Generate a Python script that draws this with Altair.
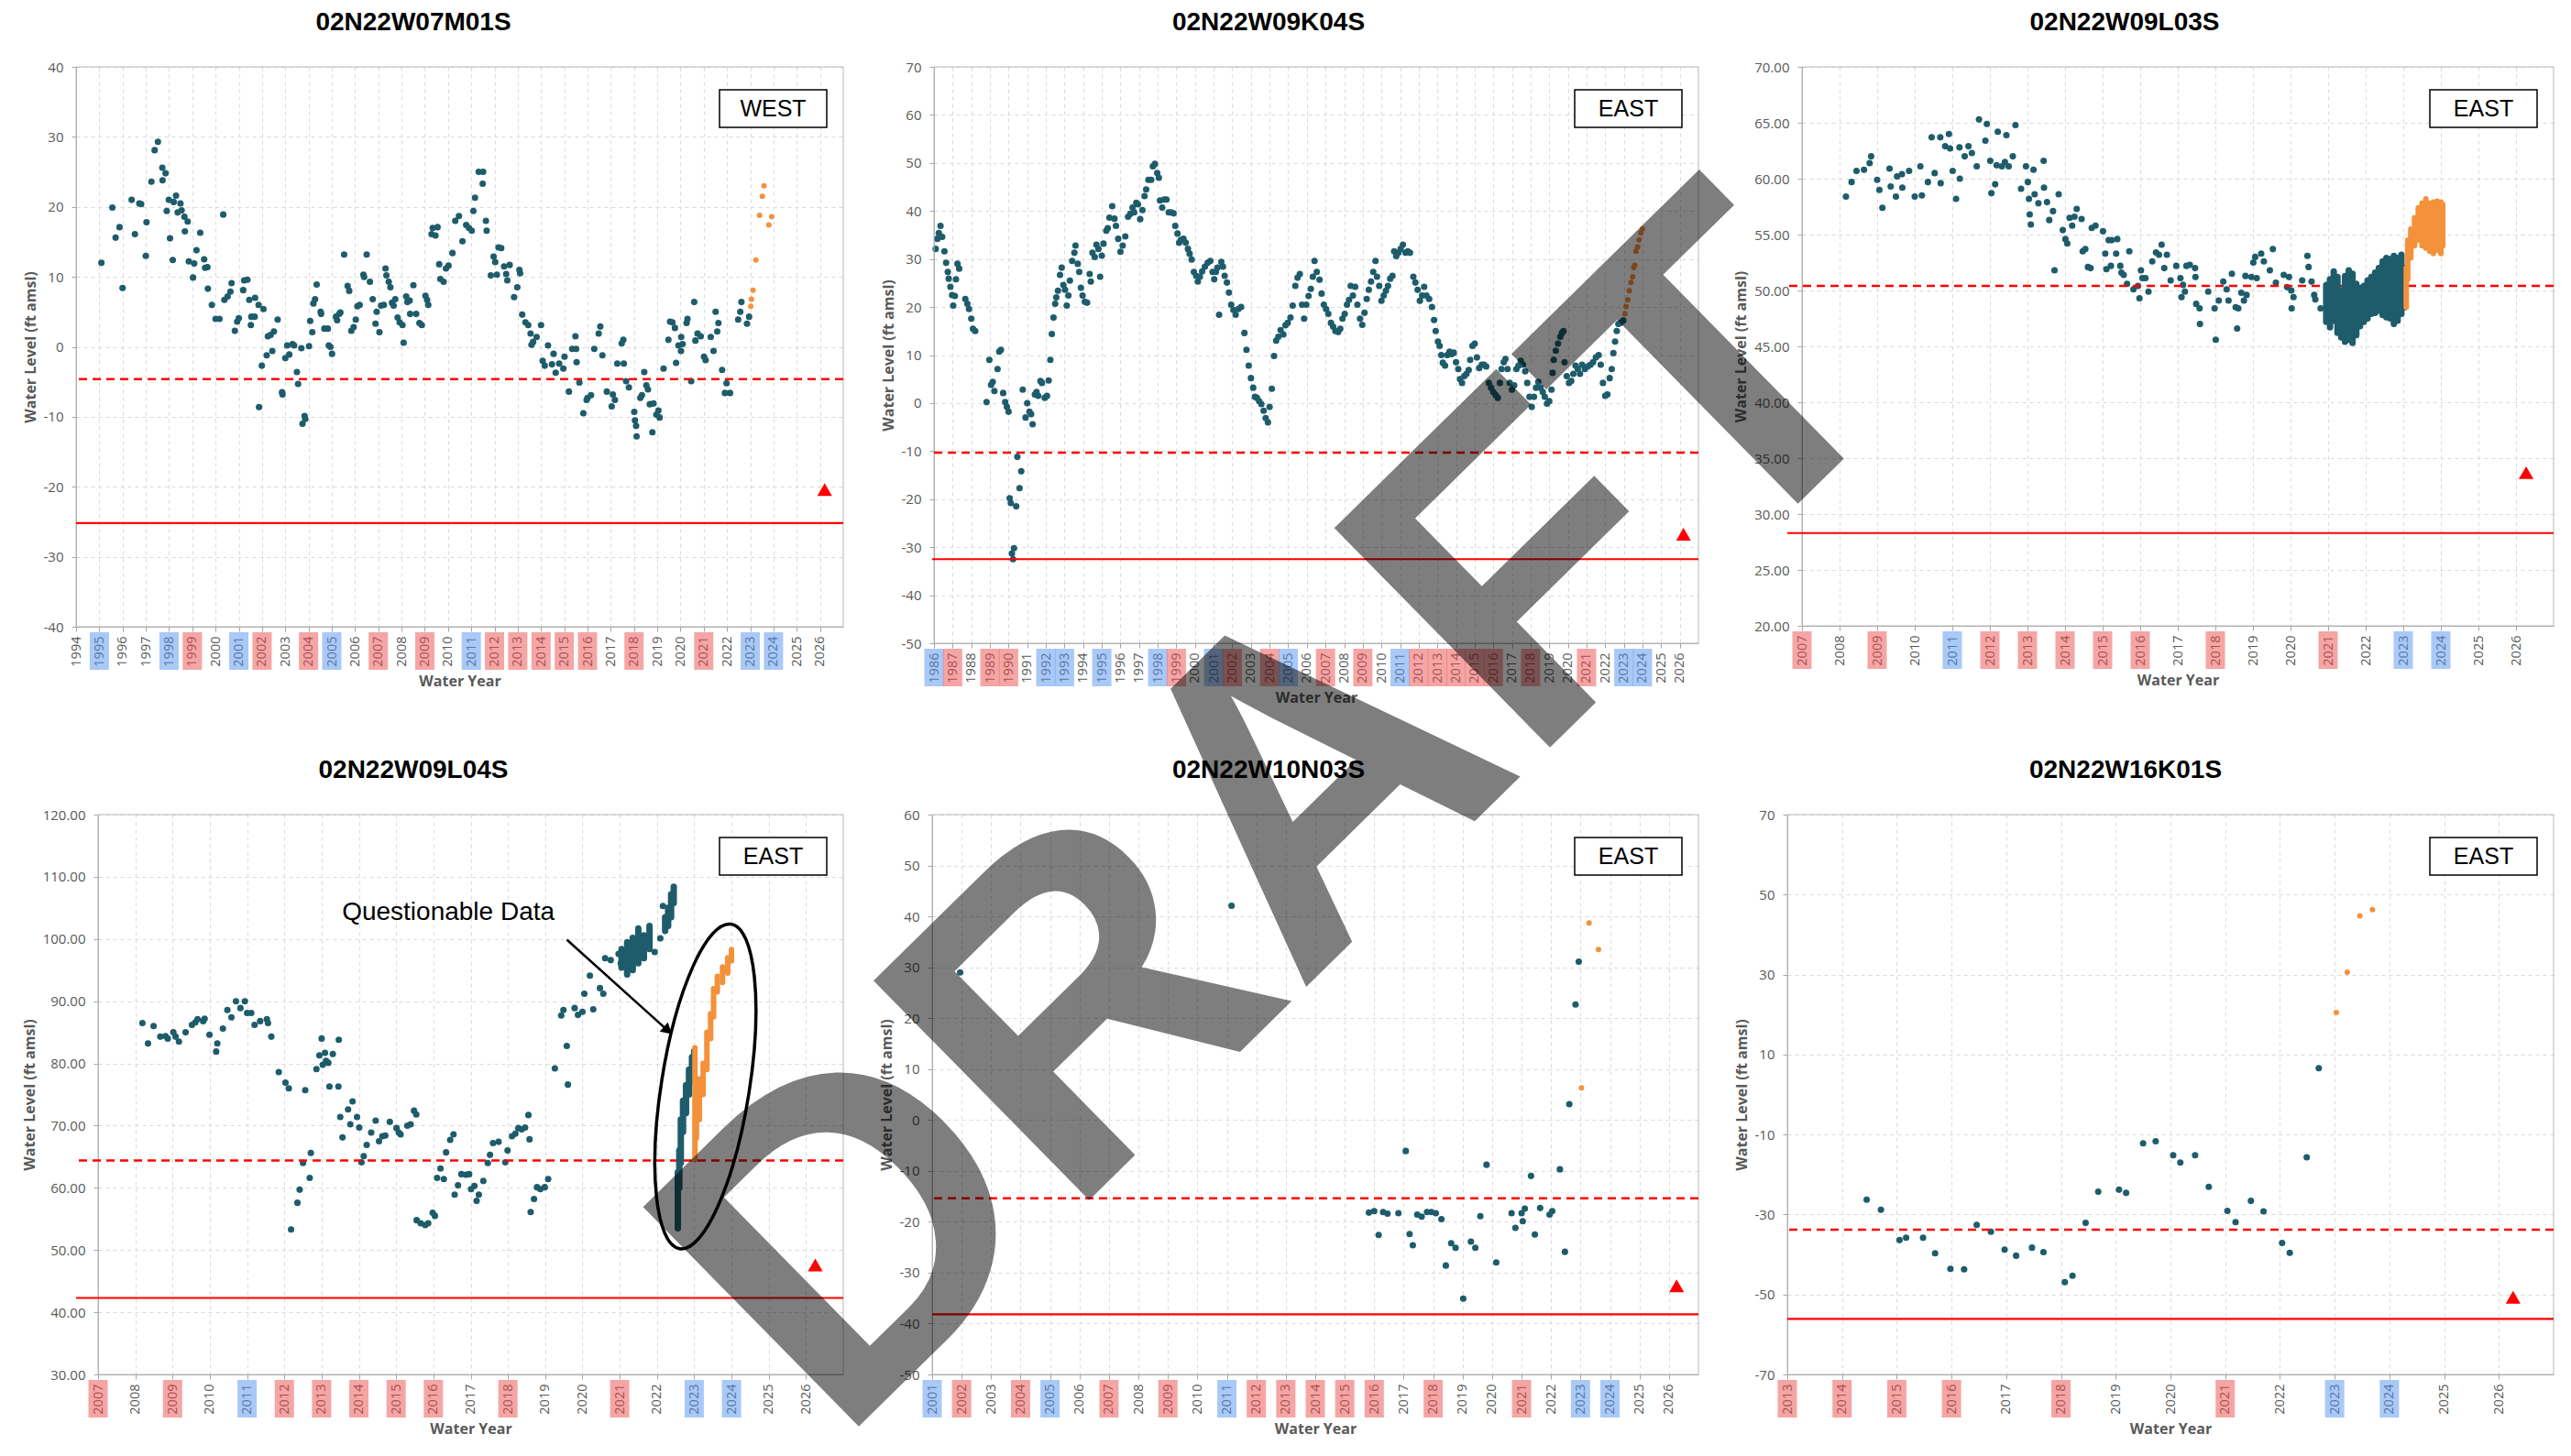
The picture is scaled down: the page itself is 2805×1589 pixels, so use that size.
import altair as alt
import pandas as pd

# ---------------------------------------------------------------- colours / fonts
TEAL = "#1e5c6b"
ORANGE = "#f4913b"
RED = "#ff0000"
WET_COLOR = "#5393ef"
DRY_COLOR = "#ed4b4b"
GRID = "#dadada"
AXIS_GRAY = "#a6a6a6"
FRAME_GRAY = "#b8b8b8"
TEXT_GRAY = "#595959"
LABEL_FONT = "Open Sans"
TITLE_FONT = "Liberation Sans"

# ---------------------------------------------------------------- year classes
WET_YEARS = [1986, 1992, 1993, 1995, 1998, 2001, 2005, 2011, 2023, 2024]
DRY_YEARS = [1987, 1989, 1990, 1999, 2002, 2004, 2007, 2009, 2012, 2013, 2014,
             2015, 2016, 2018, 2021]

# ---------------------------------------------------------------- 02N22W07M01S
P1_HIST = [(1995.09,12.0),(1995.56,19.9),(1995.70,15.6),(1995.87,17.1),(1996.00,8.4),(1996.39,21.0),(1996.53,16.1),(1996.72,20.5),(1996.80,20.4),(1997.00,13.0),(1997.03,17.8),(1997.24,23.6),(1997.38,28.1),(1997.52,29.3),(1997.71,25.6),(1997.72,23.8),(1997.85,24.8),(1997.90,19.4),(1997.99,21.0),(1998.04,15.5),(1998.16,12.4),(1998.20,20.7),(1998.30,21.6),(1998.37,19.2),(1998.49,20.5),(1998.54,19.5),(1998.66,18.6),(1998.68,16.5),(1998.80,17.9),(1998.85,12.2),(1999.03,9.9),(1999.08,11.9),(1999.18,13.8),(1999.34,16.3),(1999.51,12.5),(1999.55,11.3),(1999.65,11.4),(1999.67,8.3),(1999.84,6.0),(2000.00,4.0),(2000.17,4.0),(2000.33,18.9),(2000.38,6.7),(2000.52,7.2),(2000.64,7.9),(2000.69,9.1),(2000.83,2.3),(2000.93,3.6),(2001.00,4.1),(2001.19,8.1),(2001.23,9.5),(2001.37,9.6),(2001.45,6.7),(2001.52,3.1),(2001.54,4.3),(2001.68,4.3),(2001.70,7.0),(2001.85,6.0),(2001.87,-8.6),(2001.99,-2.7),(2002.06,5.4),(2002.20,-1.2),(2002.25,1.5),(2002.37,1.7),(2002.44,-0.6),(2002.51,2.2),(2002.67,3.9),(2002.86,-6.5),(2002.88,-6.8),(2003.00,-1.6),(2003.08,0.2),(2003.17,-1.1),(2003.31,0.4),(2003.38,0.2),(2003.50,-3.6),(2003.55,-5.3),(2003.69,-0.2),(2003.74,-11.0),(2003.83,-9.9),(2003.86,-10.3),(2004.02,0.1),(2004.07,3.7),(2004.16,2.1),(2004.21,6.2),(2004.28,6.8),(2004.35,8.9),(2004.52,5.0),(2004.54,4.7),(2004.68,2.6),(2004.83,2.6),(2004.87,0.2),(2004.94,0.0),(2005.01,-1.0),(2005.18,4.3),(2005.23,3.8),(2005.32,4.7),(2005.37,4.9),(2005.53,13.2),(2005.68,8.7),(2005.75,8.0),(2005.84,2.3),(2005.94,2.8),(2006.03,3.9),(2006.10,5.8),(2006.20,6.0),(2006.36,10.3),(2006.39,10.0),(2006.50,13.2),(2006.64,9.3),(2006.76,6.8),(2006.88,3.3),(2006.93,5.0),(2007.05,2.1),(2007.12,5.9),(2007.24,6.0),(2007.31,11.2),(2007.35,10.2),(2007.45,9.3),(2007.52,8.5),(2007.59,6.3),(2007.66,5.9),(2007.73,6.8),(2007.83,4.2),(2007.92,3.5),(2008.04,3.1),(2008.09,0.6),(2008.20,7.2),(2008.25,6.4),(2008.35,6.6),(2008.37,4.7),(2008.51,8.8),(2008.63,4.7),(2008.77,3.4),(2008.87,3.1),(2009.03,7.3),(2009.10,6.7),(2009.15,6.0),(2009.29,16.1),(2009.34,17.0),(2009.46,15.9),(2009.55,17.1),(2009.62,11.8),(2009.67,9.7),(2009.81,9.3),(2009.91,11.2),(2010.02,11.6),(2010.19,13.4),(2010.31,18.0),(2010.47,18.7),(2010.62,15.1),(2010.78,17.4),(2010.90,17.0),(2011.02,16.6),(2011.09,19.4),(2011.16,21.3),(2011.32,25.0),(2011.51,25.0),(2011.49,23.3),(2011.63,18.0),(2011.66,16.6),(2011.84,10.2),(2011.96,12.9),(2012.03,12.1),(2012.10,10.3),(2012.17,14.2),(2012.29,14.1),(2012.41,11.5),(2012.50,10.4),(2012.55,9.5),(2012.65,11.7),(2012.84,7.1),(2012.98,8.5),(2013.07,11.0),(2013.10,10.5),(2013.19,4.6),(2013.33,3.5),(2013.45,3.1),(2013.55,1.9),(2013.59,0.3),(2013.66,0.7),(2013.81,1.4),(2014.00,3.1),(2014.07,-2.0),(2014.16,-2.7),(2014.30,0.2),(2014.47,-2.5),(2014.54,-1.0),(2014.63,-3.7),(2014.78,-2.4),(2014.96,-3.1),(2015.01,-1.4),(2015.20,-6.4),(2015.34,-0.3),(2015.48,1.5),(2015.51,-0.3),(2015.53,-2.2),(2015.65,-5.1),(2015.82,-9.5),(2015.96,-7.6),(2016.00,-7.3),(2016.15,-6.9),(2016.29,-0.3),(2016.48,1.9),(2016.55,2.9),(2016.64,-1.2),(2016.83,-6.4),(2017.04,-8.5),(2017.09,-6.8),(2017.18,-7.6),(2017.28,-2.4),(2017.47,0.5),(2017.54,1.0),(2017.56,-2.4),(2017.66,-4.9),(2017.78,-5.8),(2018.01,-9.3),(2018.04,-10.5),(2018.11,-12.8),(2018.09,-11.3),(2018.27,-7.3),(2018.34,-6.9),(2018.44,-3.6),(2018.53,-5.5),(2018.60,-6.1),(2018.68,-8.2),(2018.79,-12.2),(2018.84,-8.1),(2018.96,-9.7),(2019.05,-9.1),(2019.10,-10.1),(2019.27,-3.1),(2019.48,1.0),(2019.55,3.6),(2019.65,3.5),(2019.76,2.7),(2019.81,-2.3),(2019.91,0.2),(2020.02,-0.6),(2020.03,1.4),(2020.09,0.4),(2020.26,3.4),(2020.30,4.0),(2020.46,-4.9),(2020.59,6.4),(2020.64,0.9),(2020.73,1.9),(2020.87,1.5),(2021.01,-1.4),(2021.08,-1.9),(2021.30,1.4),(2021.42,-0.6),(2021.51,5.0),(2021.58,2.2),(2021.63,3.4),(2021.79,-3.3),(2021.91,-6.6),(2021.98,-5.2),(2022.13,-6.6),(2022.48,3.9),(2022.57,5.0),(2022.62,6.4),(2022.86,3.3),(2022.95,4.3)]
P1_NEW = [(2023.02,5.8),(2023.05,6.8),(2023.12,8.1),(2023.24,12.4),(2023.40,18.8),(2023.52,21.5),(2023.59,23.0),(2023.80,17.4),(2023.92,18.6)]

# ---------------------------------------------------------------- 02N22W09K04S
P2_HIST = [(1986.09,32.1),(1986.18,34.2),(1986.26,35.4),(1986.35,36.9),(1986.44,34.6),(1986.56,31.6),(1986.65,29.2),(1986.74,27.3),(1986.79,25.9),(1986.88,24.2),(1986.97,22.5),(1987.03,20.3),(1987.12,22.3),(1987.18,25.8),(1987.26,29.0),(1987.35,28.0),(1987.68,21.7),(1987.79,20.7),(1987.88,19.6),(1988.00,17.6),(1988.09,15.5),(1988.21,15.0),(1988.82,0.2),(1988.97,9.0),(1989.06,3.8),(1989.15,4.4),(1989.24,2.5),(1989.41,7.1),(1989.50,10.7),(1989.59,11.1),(1989.71,2.1),(1989.82,0.2),(1989.91,-0.8),(1990.00,-1.8),(1990.06,-19.8),(1990.12,-20.8),(1990.18,-31.3),(1990.24,-32.5),(1990.29,-30.2),(1990.41,-21.5),(1990.47,-11.2),(1990.59,-17.7),(1990.68,-14.2),(1990.76,2.8),(1990.91,-3.0),(1991.00,0.0),(1991.12,-1.8),(1991.21,-2.3),(1991.29,-4.4),(1991.41,1.8),(1991.50,2.3),(1991.59,1.5),(1991.71,4.6),(1991.79,4.2),(1991.94,1.1),(1992.06,1.5),(1992.15,4.7),(1992.24,9.0),(1992.32,14.4),(1992.41,17.8),(1992.50,20.7),(1992.56,22.0),(1992.65,23.4),(1992.76,26.7),(1992.85,28.2),(1992.94,24.6),(1993.03,23.6),(1993.12,20.3),(1993.21,22.4),(1993.29,25.5),(1993.41,29.6),(1993.53,31.3),(1993.59,32.8),(1993.71,29.0),(1993.79,27.3),(1993.88,24.0),(1993.97,22.4),(1994.09,21.1),(1994.21,20.9),(1994.35,26.9),(1994.41,25.3),(1994.50,31.3),(1994.62,30.4),(1994.71,33.0),(1994.82,32.1),(1994.91,26.3),(1995.00,30.7),(1995.09,33.2),(1995.24,35.9),(1995.32,36.4),(1995.41,38.6),(1995.56,41.0),(1995.68,38.4),(1995.76,36.9),(1995.88,34.2),(1996.00,31.5),(1996.12,32.8),(1996.26,34.7),(1996.41,38.8),(1996.53,39.4),(1996.65,40.7),(1996.74,39.7),(1996.85,41.7),(1996.94,41.4),(1997.06,38.3),(1997.18,40.2),(1997.29,43.1),(1997.38,44.5),(1997.50,46.5),(1997.65,46.5),(1997.74,49.3),(1997.85,49.8),(1997.97,47.9),(1998.06,46.9),(1998.12,42.2),(1998.24,40.7),(1998.35,42.4),(1998.47,42.4),(1998.59,39.7),(1998.71,39.7),(1998.85,39.5),(1998.94,36.9),(1999.06,35.3),(1999.15,33.4),(1999.24,34.0),(1999.38,34.2),(1999.50,33.4),(1999.62,32.1),(1999.71,31.1),(1999.82,29.9),(1999.94,27.3),(2000.06,26.5),(2000.15,25.3),(2000.26,26.3),(2000.38,27.4),(2000.53,28.4),(2000.68,29.2),(2000.82,29.6),(2000.94,27.3),(2001.03,25.8),(2001.12,27.3),(2001.21,28.2),(2001.29,18.4),(2001.41,29.4),(2001.50,28.4),(2001.59,26.5),(2001.71,25.1),(2001.82,23.0),(2001.94,20.5),(2002.06,19.4),(2002.18,18.4),(2002.32,19.6),(2002.47,20.0),(2002.65,14.6),(2002.76,11.1),(2002.88,7.8),(2003.00,5.2),(2003.12,3.2),(2003.21,1.3),(2003.32,1.1),(2003.44,0.4),(2003.56,-0.2),(2003.68,-1.6),(2003.79,-3.1),(2003.91,-4.0),(2004.00,-0.8),(2004.12,3.0),(2004.24,9.8),(2004.35,13.0),(2004.47,13.8),(2004.59,15.2),(2004.74,14.3),(2004.85,16.2),(2004.97,16.7),(2005.12,17.8),(2005.24,20.3),(2005.38,24.4),(2005.50,26.1),(2005.62,26.9),(2005.74,20.5),(2005.85,17.6),(2005.97,20.5),(2006.09,22.3),(2006.21,23.8),(2006.32,26.3),(2006.41,29.6),(2006.53,27.3),(2006.68,25.7),(2006.79,22.8),(2006.91,20.5),(2007.03,19.6),(2007.15,18.6),(2007.29,16.7),(2007.41,15.9),(2007.53,15.0),(2007.68,14.8),(2007.79,15.5),(2007.91,17.6),(2008.03,18.6),(2008.15,20.5),(2008.26,21.5),(2008.35,24.4),(2008.47,22.4),(2008.59,24.2),(2008.71,20.5),(2008.85,17.6),(2008.97,16.3),(2009.09,18.8),(2009.21,21.7),(2009.32,23.6),(2009.44,25.3),(2009.56,27.3),(2009.68,29.6),(2009.76,26.3),(2009.88,24.4),(2010.00,21.3),(2010.12,22.4),(2010.24,23.4),(2010.35,24.4),(2010.47,25.9),(2010.59,26.5),(2010.68,31.6),(2010.79,30.6),(2010.91,31.3),(2011.03,32.1),(2011.15,33.0),(2011.29,31.3),(2011.41,31.6),(2011.53,31.3),(2011.71,26.3),(2011.82,25.1),(2011.94,23.6),(2012.06,21.3),(2012.18,22.4),(2012.29,24.2),(2012.41,22.4),(2012.56,21.7),(2012.71,20.0),(2012.82,17.3),(2012.91,15.0),(2013.03,12.8),(2013.12,11.9),(2013.21,10.0),(2013.29,8.4),(2013.41,7.8),(2013.53,10.0),(2013.65,10.7),(2013.76,10.2),(2013.88,10.5),(2014.00,8.5),(2014.12,7.1),(2014.21,5.0),(2014.32,4.2),(2014.44,5.6),(2014.56,6.1),(2014.68,6.9),(2014.76,9.0),(2014.88,11.9),(2015.00,12.4),(2015.12,9.5),(2015.24,7.3),(2015.38,8.0),(2015.50,8.0),(2015.62,7.6),(2015.76,4.2),(2015.88,3.2),(2016.00,2.3),(2016.12,1.7),(2016.24,1.1),(2016.35,4.2),(2016.44,7.1),(2016.56,8.5),(2016.65,9.2),(2016.76,7.1),(2016.88,4.2),(2017.00,2.8),(2017.12,3.7),(2017.24,7.1),(2017.35,7.8),(2017.47,8.8),(2017.59,8.0),(2017.71,6.6),(2017.82,4.2),(2017.94,1.3),(2018.06,-0.8),(2018.18,1.3),(2018.29,3.2),(2018.41,4.4),(2018.53,3.2),(2018.65,2.3),(2018.76,1.3),(2018.88,-0.1),(2019.00,0.4),(2019.12,2.8),(2019.18,6.3),(2019.24,9.0),(2019.35,10.9),(2019.47,12.4),(2019.59,13.8),(2019.68,14.6),(2019.76,15.0),(2019.82,8.5),(2019.94,5.6),(2020.06,4.2),(2020.18,4.6),(2020.29,6.1),(2020.41,7.8),(2020.53,7.1),(2020.65,6.1),(2020.76,8.0),(2020.91,7.1),(2021.06,7.6),(2021.21,8.0),(2021.35,8.5),(2021.50,9.5),(2021.65,10.0),(2021.76,8.0),(2021.88,4.2),(2022.00,1.5),(2022.12,1.8),(2022.24,5.2),(2022.35,7.1),(2022.44,10.4),(2022.53,12.8),(2022.62,15.0),(2022.71,16.5),(2022.82,16.7),(2022.97,17.2)]
P2_NEW = [(2023.06,18.6),(2023.12,20.1),(2023.21,21.5),(2023.29,23.4),(2023.38,25.1),(2023.47,26.3),(2023.53,28.2),(2023.59,28.7),(2023.65,31.6),(2023.74,32.5),(2023.82,34.0),(2023.91,35.4),(2024.00,36.3)]

# ---------------------------------------------------------------- 02N22W09L03S
P3_HIST = [(2008.17,58.4),(2008.32,59.7),(2008.45,60.7),(2008.65,60.8),(2008.80,61.4),(2008.84,62.0),(2009.00,59.9),(2009.06,59.0),(2009.14,57.4),(2009.33,60.9),(2009.36,59.3),(2009.50,58.4),(2009.53,60.2),(2009.66,60.4),(2009.67,59.2),(2009.85,60.7),(2010.00,58.4),(2010.15,61.1),(2010.19,58.5),(2010.35,59.7),(2010.45,63.7),(2010.53,60.5),(2010.68,63.7),(2010.69,59.6),(2010.81,62.9),(2010.91,64.0),(2010.94,62.7),(2011.01,60.7),(2011.10,58.2),(2011.19,62.8),(2011.20,60.0),(2011.33,62.0),(2011.43,62.9),(2011.52,62.3),(2011.65,61.1),(2011.71,65.3),(2011.88,63.4),(2011.92,64.9),(2012.01,61.6),(2012.04,58.7),(2012.14,59.5),(2012.18,61.2),(2012.21,64.2),(2012.32,61.1),(2012.40,61.5),(2012.44,63.9),(2012.50,61.1),(2012.61,62.0),(2012.68,64.8),(2012.83,59.1),(2012.96,61.1),(2013.01,59.7),(2013.04,58.2),(2013.06,56.8),(2013.09,55.9),(2013.16,60.8),(2013.19,58.6),(2013.29,57.8),(2013.43,61.6),(2013.44,59.2),(2013.52,57.9),(2013.58,56.3),(2013.68,57.1),(2013.72,51.8),(2013.83,58.6),(2013.94,55.4),(2014.01,54.6),(2014.06,54.2),(2014.12,56.5),(2014.19,55.8),(2014.25,56.6),(2014.31,57.3),(2014.44,56.4),(2014.47,53.5),(2014.54,53.7),(2014.61,52.1),(2014.68,52.0),(2014.71,55.6),(2014.81,55.8),(2015.01,55.3),(2015.07,53.3),(2015.10,51.9),(2015.16,54.5),(2015.22,52.2),(2015.24,54.5),(2015.36,53.3),(2015.39,54.6),(2015.47,52.2),(2015.50,51.6),(2015.56,51.4),(2015.65,50.6),(2015.71,53.5),(2015.82,50.1),(2015.94,50.4),(2015.98,49.3),(2016.02,51.8),(2016.06,51.1),(2016.14,51.1),(2016.22,49.9),(2016.32,52.6),(2016.42,53.4),(2016.50,53.2),(2016.57,54.1),(2016.64,52.0),(2016.71,53.2),(2016.81,50.9),(2016.96,52.2),(2017.07,51.1),(2017.10,49.4),(2017.14,50.5),(2017.19,49.9),(2017.23,52.2),(2017.32,52.3),(2017.46,52.0),(2017.47,51.2),(2017.49,48.8),(2017.58,48.4),(2017.59,47.0),(2017.81,49.9),(2017.98,48.4),(2018.01,45.6),(2018.09,49.1),(2018.21,50.8),(2018.30,50.1),(2018.35,49.1),(2018.44,51.5),(2018.54,48.5),(2018.58,46.6),(2018.61,48.4),(2018.69,49.8),(2018.76,49.1),(2018.80,51.3),(2018.83,49.6),(2018.96,51.2),(2019.01,52.5),(2019.06,53.0),(2019.10,51.1),(2019.22,53.3),(2019.29,52.6),(2019.45,51.8),(2019.53,53.7),(2019.61,50.7),(2019.82,51.4),(2019.91,50.3),(2019.96,51.2),(2020.02,50.0),(2020.03,48.4),(2020.08,49.4),(2020.31,50.9),(2020.45,53.1),(2020.48,52.1),(2020.56,50.8),(2020.63,49.6),(2020.66,49.2),(2020.80,48.4)]
P3_BAND = [(2020.95,47.2,50.5),(2021.05,46.7,51.0),(2021.15,47.3,51.7),(2021.25,46.2,51.2),(2021.35,45.8,50.0),(2021.45,45.4,51.3),(2021.55,45.6,51.8),(2021.65,45.3,51.5),(2021.75,46.0,50.6),(2021.85,46.8,50.2),(2021.95,47.2,50.4),(2022.05,47.5,50.9),(2022.15,47.9,51.2),(2022.25,48.0,51.6),(2022.35,48.2,52.0),(2022.45,47.8,52.6),(2022.55,47.6,52.9),(2022.65,47.5,52.8),(2022.75,47.0,53.1),(2022.85,47.3,52.9),(2022.95,47.9,53.2),(2023.04,48.5,52.0)]
P3_NEW_BAND = [(2023.08,48.5,52.0),(2023.12,51.0,54.5),(2023.20,52.9,55.5),(2023.30,54.0,56.5),(2023.40,54.5,57.4),(2023.50,54.0,57.8),(2023.60,53.8,58.2),(2023.70,53.5,57.8),(2023.80,53.3,57.9),(2023.90,53.6,58.0),(2024.00,53.3,57.9),(2024.05,54.0,57.7)]

# ---------------------------------------------------------------- 02N22W09L04S
P4_HIST = [(2008.19,86.5),(2008.34,83.2),(2008.49,86.0),(2008.67,84.3),(2008.81,84.4),(2008.87,84.0),(2009.02,85.0),(2009.08,84.3),(2009.17,83.5),(2009.35,85.0),(2009.52,86.2),(2009.61,86.6),(2009.67,87.1),(2009.82,86.8),(2009.86,87.2),(2009.99,84.6),(2010.17,81.9),(2010.20,83.2),(2010.35,85.6),(2010.47,88.6),(2010.58,87.4),(2010.70,90.0),(2010.82,88.9),(2010.94,90.0),(2011.00,88.1),(2011.11,88.1),(2011.20,86.2),(2011.35,86.8),(2011.53,87.1),(2011.56,86.5),(2011.65,84.3),(2011.85,78.6),(2012.03,76.9),(2012.12,76.0),(2012.18,53.3),(2012.35,57.6),(2012.41,59.7),(2012.50,64.0),(2012.56,75.7),(2012.68,61.6),(2012.71,65.6),(2012.86,79.1),(2012.94,81.3),(2013.00,84.0),(2013.03,79.8),(2013.09,81.7),(2013.12,80.4),(2013.18,80.1),(2013.21,76.3),(2013.30,81.5),(2013.45,76.3),(2013.46,83.8),(2013.50,71.4),(2013.56,68.1),(2013.71,72.6),(2013.77,70.2),(2013.83,73.9),(2013.95,71.4),(2014.01,69.7),(2014.07,64.1),(2014.13,65.1),(2014.21,66.9),(2014.33,68.9),(2014.45,70.8),(2014.54,67.5),(2014.63,68.3),(2014.71,68.4),(2014.83,70.6),(2015.01,69.6),(2015.07,68.9),(2015.12,68.6),(2015.30,70.0),(2015.39,70.2),(2015.48,72.4),(2015.54,71.8),(2015.55,54.8),(2015.66,54.3),(2015.78,54.0),(2015.86,54.3),(2015.98,56.0),(2016.04,55.5),(2016.10,61.6),(2016.19,63.1),(2016.28,61.4),(2016.34,65.7),(2016.45,67.7),(2016.54,68.6),(2016.57,58.9),(2016.66,60.4),(2016.75,62.2),(2016.87,62.1),(2016.96,62.2),(2017.01,59.8),(2017.10,60.3),(2017.16,57.9),(2017.22,58.9),(2017.34,61.1),(2017.46,64.0),(2017.52,65.3),(2017.60,67.2),(2017.75,67.4),(2017.93,64.1),(2017.99,66.0),(2018.11,68.3),(2018.20,68.7),(2018.28,69.6),(2018.37,69.4),(2018.46,69.7),(2018.55,71.7),(2018.58,67.8),(2018.61,56.1),(2018.70,58.2),(2018.78,60.1),(2018.87,59.8),(2018.99,60.1),(2019.08,61.4),(2019.26,79.2),(2019.43,87.7),(2019.49,88.6),(2019.58,82.8),(2019.61,76.6),(2019.79,88.9),(2019.88,87.8),(2020.00,88.3),(2020.05,91.2),(2020.20,94.1),(2020.29,88.7),(2020.47,92.1),(2020.56,91.2),(2020.61,96.9),(2020.76,96.6),(2020.97,97.6),(2021.03,96.1),(2021.94,97.9),(2022.09,100.1),(2022.16,105.3)]
P4_BAND = [(2021.05,95.4,98.4),(2021.20,94.3,99.5),(2021.35,95.0,100.2),(2021.50,96.1,101.7),(2021.65,96.9,100.6),(2021.80,98.4,102.1),(2022.22,101.3,103.5),(2022.30,102.1,105.0),(2022.38,103.5,107.2),(2022.45,105.8,108.4),(2022.56,53.5,62.5),(2022.60,60.0,66.0),(2022.64,64.0,71.0),(2022.70,69.0,74.0),(2022.78,72.0,76.5),(2022.86,75.0,79.0),(2022.94,77.0,81.0),(2023.00,78.5,82.0)]
P4_NEW_BAND = [(2023.02,64.5,82.5),(2023.06,68.0,76.0),(2023.14,71.0,77.5),(2023.24,75.0,80.0),(2023.34,79.0,85.0),(2023.44,84.0,88.0),(2023.52,87.5,92.0),(2023.62,91.5,94.0),(2023.76,93.0,95.5),(2023.90,94.5,97.0),(2024.00,96.5,98.3)]
P4_NOTE = ("Questionable Data", 2016.40, 104.3)
P4_ARROW = [(2019.58, 99.9), (2022.29, 85.3)]
P4_ARROW_HEAD = (2022.29, 85.3)
P4_ELLIPSE = (2023.30, 76.3)

# ---------------------------------------------------------------- 02N22W10N03S
P5_HIST = [(2001.95,29.0),(2011.16,42.1),(2015.82,-18.2),(2016.00,-17.9),(2016.15,-22.6),(2016.30,-18.1),(2016.45,-18.4),(2016.82,-18.3),(2017.07,-6.1),(2017.20,-22.4),(2017.31,-24.6),(2017.46,-18.6),(2017.61,-19.0),(2017.79,-18.1),(2017.94,-18.1),(2018.09,-18.3),(2018.28,-19.5),(2018.43,-28.6),(2018.61,-24.2),(2018.76,-25.1),(2019.02,-35.1),(2019.28,-23.9),(2019.43,-25.1),(2019.60,-18.9),(2019.81,-8.8),(2020.14,-28.0),(2020.66,-18.3),(2020.79,-21.2),(2021.00,-18.3),(2021.04,-19.9),(2021.11,-17.4),(2021.32,-11.0),(2021.45,-22.5),(2021.63,-17.3),(2021.95,-18.6),(2022.04,-17.9),(2022.30,-9.7),(2022.47,-25.9),(2022.62,3.1),(2022.83,22.7),(2022.94,31.1)]
P5_NEW = [(2023.03,6.3),(2023.29,38.7),(2023.61,33.5)]

# ---------------------------------------------------------------- 02N22W16K01S
P6_HIST = [(2014.45,-26.3),(2014.71,-28.8),(2015.05,-36.4),(2015.17,-35.8),(2015.48,-35.8),(2015.70,-39.7),(2015.98,-43.6),(2016.23,-43.7),(2016.46,-32.6),(2016.72,-34.3),(2016.97,-38.8),(2017.18,-40.3),(2017.47,-38.3),(2017.68,-39.4),(2018.07,-46.9),(2018.21,-45.3),(2018.45,-32.1),(2018.68,-24.3),(2019.06,-23.8),(2019.19,-24.6),(2019.50,-12.2),(2019.73,-11.7),(2020.05,-15.2),(2020.18,-17.0),(2020.45,-15.2),(2020.70,-23.1),(2021.04,-29.1),(2021.19,-31.9),(2021.47,-26.6),(2021.70,-29.2),(2022.04,-37.1),(2022.18,-39.6),(2022.49,-15.7),(2022.71,6.6)]
P6_NEW = [(2023.03,20.5),(2023.23,30.6),(2023.46,44.7),(2023.69,46.2)]

# cw = cell width, inset = blank strip left of the frame inside the cell
PANELS = [
    dict(title="02N22W07M01S", region="WEST", x0=1994, ydom=(-40, 40), ystep=10, yfmt="d",
         cw=837, inset=0, h=611, dashed=-4.6, solid=-25.2, tri=(2026.2, -20.4), dx=-50.5,
         hist=P1_HIST, new=P1_NEW, band=None, new_band=None),
    dict(title="02N22W09K04S", region="EAST", x0=1986, ydom=(-50, 70), ystep=10, yfmt="d",
         cw=836, inset=2, h=629, dashed=-10.3, solid=-32.5, tri=(2026.2, -27.3), dx=-51,
         hist=P2_HIST, new=P2_NEW, band=None, new_band=None),
    dict(title="02N22W09L03S", region="EAST", x0=2007, ydom=(20, 70), ystep=5, yfmt=".2f",
         cw=836, inset=16, h=610, dashed=50.4, solid=28.3, tri=(2026.27, 33.7), dx=-50,
         hist=P3_HIST, new=[], band=P3_BAND, new_band=P3_NEW_BAND),
    dict(title="02N22W09L04S", region="EAST", x0=2007, ydom=(30, 120), ystep=10, yfmt=".2f",
         cw=837, inset=24, h=611, dashed=64.4, solid=42.3, tri=(2026.25, 47.6), dx=-50.5,
         hist=P4_HIST, new=[], band=P4_BAND, new_band=P4_NEW_BAND),
    dict(title="02N22W10N03S", region="EAST", x0=2001, ydom=(-50, 60), ystep=10, yfmt="d",
         cw=836, inset=0, h=611, dashed=-15.4, solid=-38.2, tri=(2026.26, -32.6), dx=-51,
         hist=P5_HIST, new=P5_NEW, band=None, new_band=None),
    dict(title="02N22W16K01S", region="EAST", x0=2013, ydom=(-70, 70), ystep=20, yfmt="d",
         cw=836, inset=0, h=611, dashed=-33.8, solid=-56.1, tri=(2026.26, -50.7), dx=-49,
         hist=P6_HIST, new=P6_NEW, band=None, new_band=None),
]

ELLIPSE_PATH = ("M0,-1 C0.148,-1 0.268,-0.552 0.268,0 C0.268,0.552 0.148,1 0,1 "
                "C-0.148,1 -0.268,0.552 -0.268,0 C-0.268,-0.552 -0.148,-1 0,-1 Z")


def make_panel(cfg, extra=None):
    cw, h, L = cfg["cw"], cfg["h"], cfg["inset"]
    x0 = cfg["x0"]
    ymin, ymax = cfg["ydom"]
    xs = alt.Scale(domain=[x0, 2027], range=[L, cw], nice=False, zero=False)
    ys = alt.Scale(domain=[ymin, ymax], nice=False, zero=False)
    xax = alt.Axis(values=list(range(x0, 2027)), format="d", labelAngle=270,
                   labelFlush=False, labelOverlap=False, labelFont=LABEL_FONT,
                   labelFontSize=14.5, labelColor=TEXT_GRAY, labelPadding=5,
                   tickSize=5, tickColor=AXIS_GRAY, domainColor=AXIS_GRAY,
                   grid=True, gridColor=GRID, gridDash=[4, 4],
                   title="Water Year", titleFont=LABEL_FONT, titleFontSize=16,
                   titleFontWeight="bold", titleColor=TEXT_GRAY, titlePadding=8)
    yax = alt.Axis(values=list(range(ymin, ymax + 1, cfg["ystep"])), format=cfg["yfmt"],
                   labelExpr="replace(datum.label, '\u2212', '-')",
                   labelFlush=False, labelOverlap=False, labelFont=LABEL_FONT,
                   labelFontSize=15, labelColor=TEXT_GRAY, labelPadding=9,
                   tickSize=5, tickColor=AXIS_GRAY, domainColor=AXIS_GRAY,
                   grid=True, gridColor=GRID, gridDash=[4, 4], offset=-L,
                   title="Water Level (ft amsl)", titleFont=LABEL_FONT, titleFontSize=16,
                   titleFontWeight="bold", titleColor=TEXT_GRAY, titlePadding=6)
    X = alt.X("yr:Q", scale=xs, axis=xax)
    Y = alt.Y("wl:Q", scale=ys, axis=yax)

    yrs = [y for y in range(x0, 2027) if y in WET_YEARS or y in DRY_YEARS]
    hl = pd.DataFrame({"yr": yrs, "kind": ["wet" if y in WET_YEARS else "dry" for y in yrs]})
    lab = pd.DataFrame({"t": [cfg["region"]]})
    layers = [
        alt.Chart(pd.DataFrame(cfg["hist"], columns=["yr", "wl"])).mark_circle(
            size=50, color=TEAL, opacity=1).encode(x=X, y=Y),
        alt.Chart(lab).mark_rect(fill="white", fillOpacity=0, stroke=FRAME_GRAY,
                                 strokeWidth=1).encode(
            x=alt.value(L), x2=alt.value(cw), y=alt.value(0), y2=alt.value(h)),
        alt.Chart(hl).mark_tick(orient="vertical", thickness=21, size=41, opacity=0.5).encode(
            x=X, y=alt.value(h + 26.5),
            color=alt.Color("kind:N", scale=alt.Scale(domain=["wet", "dry"],
                                                      range=[WET_COLOR, DRY_COLOR]),
                            legend=None)),
        alt.Chart(pd.DataFrame({"wl": [cfg["dashed"]]})).mark_rule(
            color=RED, strokeDash=[9, 6], strokeWidth=2.5).encode(y=Y),
        alt.Chart(pd.DataFrame({"wl": [cfg["solid"]]})).mark_rule(
            color=RED, strokeWidth=2.2).encode(y=Y),
    ]
    if cfg["band"]:
        layers.append(
            alt.Chart(pd.DataFrame(cfg["band"], columns=["yr", "wl", "wl2"])).mark_rule(
                color=TEAL, strokeWidth=7, strokeCap="round").encode(
                x=X, y=Y, y2=alt.Y2("wl2:Q")))
    if cfg["new"]:
        layers.append(
            alt.Chart(pd.DataFrame(cfg["new"], columns=["yr", "wl"])).mark_circle(
                size=36, color=ORANGE, opacity=1).encode(x=X, y=Y))
    if cfg["new_band"]:
        layers.append(
            alt.Chart(pd.DataFrame(cfg["new_band"], columns=["yr", "wl", "wl2"])).mark_rule(
                color=ORANGE, strokeWidth=6, strokeCap="round").encode(
                x=X, y=Y, y2=alt.Y2("wl2:Q")))
    layers += [
        alt.Chart(pd.DataFrame({"yr": [cfg["tri"][0]], "wl": [cfg["tri"][1]]})).mark_point(
            shape="triangle-up", filled=True, size=260, color=RED, opacity=1).encode(x=X, y=Y),
        alt.Chart(lab).mark_rect(fill="white", stroke="black", strokeWidth=1.5).encode(
            x=alt.value(cw - 135), x2=alt.value(cw - 18), y=alt.value(25), y2=alt.value(66)),
        alt.Chart(lab).mark_text(font=TITLE_FONT, fontSize=25, color="black",
                                 align="center", baseline="middle").encode(
            text="t:N", x=alt.value(cw - 76.5), y=alt.value(46)),
    ]
    if extra:
        layers.extend(extra(X, Y))
    return alt.layer(*layers).properties(
        width=cw, height=h,
        title=alt.Title(cfg["title"], font=TITLE_FONT, fontSize=28, fontWeight="bold",
                        color="black", anchor="middle", frame="group", dx=cfg["dx"],
                        offset=5, baseline="alphabetic"))


def p4_extra(X, Y):
    note = pd.DataFrame({"t": [P4_NOTE[0]], "yr": [P4_NOTE[1]], "wl": [P4_NOTE[2]]})
    arrow = pd.DataFrame(P4_ARROW, columns=["yr", "wl"])
    head = pd.DataFrame({"yr": [P4_ARROW_HEAD[0]], "wl": [P4_ARROW_HEAD[1]]})
    ell = pd.DataFrame({"yr": [P4_ELLIPSE[0]], "wl": [P4_ELLIPSE[1]]})
    return [
        alt.Chart(note).mark_text(font=TITLE_FONT, fontSize=28, color="black",
                                  align="center", baseline="middle").encode(
            x=X, y=Y, text="t:N"),
        alt.Chart(arrow).mark_line(color="black", strokeWidth=2.5).encode(x=X, y=Y),
        alt.Chart(head).mark_point(shape="triangle-right", filled=True, size=180,
                                   angle=42, color="black", opacity=1).encode(x=X, y=Y),
        alt.Chart(ell).mark_point(shape=ELLIPSE_PATH, filled=False, size=128600,
                                  angle=9, color="black", strokeWidth=3.5,
                                  opacity=1).encode(x=X, y=Y),
    ]


# watermark: drawn in its own (last) grid cell so it lies on top of every panel
WATERMARK = "DRAFT"
watermark = alt.Chart(pd.DataFrame({"t": [WATERMARK]})).mark_text(
    font=TITLE_FONT, fontSize=488, fontWeight="bold", angle=315.5, color="black",
    opacity=0.5, align="center", baseline="middle").encode(
    text="t:N", x=alt.value(1318), y=alt.value(-791)).properties(width=1, height=1)

cells = [make_panel(PANELS[0]), make_panel(PANELS[1]), make_panel(PANELS[2]),
         make_panel(PANELS[3], p4_extra), make_panel(PANELS[4]), make_panel(PANELS[5]),
         watermark]

chart = alt.concat(
    *cells, columns=3, spacing={"row": 187, "column": 97}, bounds="flush",
    align="each"
).configure_view(stroke="transparent").properties(
    padding={"left": 15, "top": 2, "right": 5, "bottom": 5})

chart.save("out.html", embed_options={"renderer": "svg", "actions": False})
